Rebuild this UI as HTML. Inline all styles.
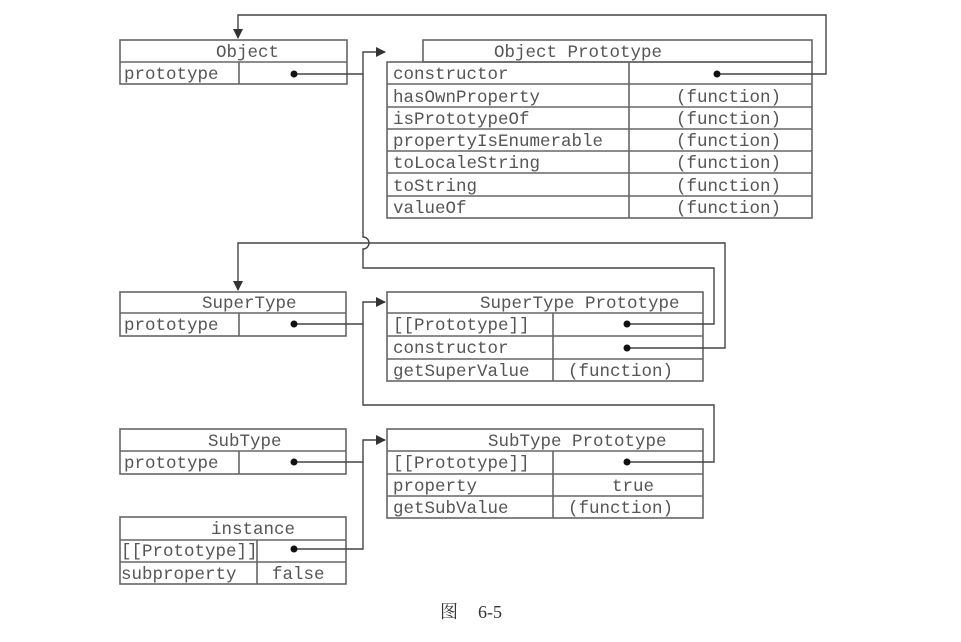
<!DOCTYPE html>
<html><head><meta charset="utf-8"><style>
html,body{margin:0;padding:0;background:#fff;}
svg{display:block}
text{font-family:"Liberation Mono",monospace;font-size:17.5px;fill:#555;}
.c{font-family:"Liberation Serif","Noto Serif CJK SC",serif;font-size:18px;fill:#333;}
</style></head><body>
<svg width="961" height="642" viewBox="0 0 961 642" xmlns="http://www.w3.org/2000/svg">
<defs><marker id="a" markerWidth="10" markerHeight="10" refX="9" refY="5" orient="auto" markerUnits="userSpaceOnUse"><path d="M0,0 L10,5 L0,10 z" fill="#333"/></marker></defs>
<g fill="none" stroke="#666" stroke-width="1.6">
<!-- Object -->
<rect x="120" y="40" width="227" height="44"/><line x1="120" y1="62" x2="347" y2="62"/><line x1="239" y1="62" x2="239" y2="84"/>
<!-- Object Prototype -->
<rect x="423" y="40" width="389" height="22"/>
<rect x="387" y="62" width="425" height="156"/>
<line x1="629" y1="62" x2="629" y2="218"/>
<line x1="387" y1="84" x2="812" y2="84"/><line x1="387" y1="107" x2="812" y2="107"/><line x1="387" y1="129" x2="812" y2="129"/><line x1="387" y1="151" x2="812" y2="151"/><line x1="387" y1="173" x2="812" y2="173"/><line x1="387" y1="196" x2="812" y2="196"/>
<!-- SuperType -->
<rect x="120" y="292" width="226" height="44"/><line x1="120" y1="313" x2="346" y2="313"/><line x1="239" y1="313" x2="239" y2="336"/>
<rect x="387" y="292" width="316" height="89"/><line x1="387" y1="313" x2="703" y2="313"/><line x1="387" y1="336" x2="703" y2="336"/><line x1="387" y1="359" x2="703" y2="359"/><line x1="553" y1="313" x2="553" y2="381"/>
<!-- SubType -->
<rect x="120" y="429" width="226" height="45"/><line x1="120" y1="451" x2="346" y2="451"/><line x1="239" y1="451" x2="239" y2="474"/>
<rect x="387" y="429" width="316" height="89"/><line x1="387" y1="451" x2="703" y2="451"/><line x1="387" y1="474" x2="703" y2="474"/><line x1="387" y1="496" x2="703" y2="496"/><line x1="553" y1="451" x2="553" y2="518"/>
<!-- instance -->
<rect x="120" y="517" width="226" height="67"/><line x1="120" y1="540" x2="346" y2="540"/><line x1="120" y1="562" x2="346" y2="562"/><line x1="257" y1="540" x2="257" y2="584"/>
</g>
<g fill="none" stroke="#444" stroke-width="1.4">
<path d="M717,74 H826 V15 H238 V38" marker-end="url(#a)"/>
<path d="M294,74 H363 V52 H385" marker-end="url(#a)"/>
<path d="M363,74 V237 A6,6 0 0 1 363,249 V268 H714 V324 H627"/>
<path d="M627,348 H725 V243 H238 V290" marker-end="url(#a)"/>
<path d="M294,324 H363 V302 H385" marker-end="url(#a)"/>
<path d="M363,324 V405 H714 V462 H627"/>
<path d="M294,462 H363 V440 H385" marker-end="url(#a)"/>
<path d="M294,549 H363 V462"/>
</g>
<g fill="#111">
<circle cx="294" cy="74" r="3.5"/><circle cx="717" cy="74" r="3.5"/>
<circle cx="294" cy="324" r="3.5"/><circle cx="627" cy="324" r="3.5"/><circle cx="627" cy="348" r="3.5"/>
<circle cx="294" cy="462" r="3.5"/><circle cx="627" cy="462" r="3.5"/><circle cx="294" cy="549" r="3.5"/>
</g>
<text x="216" y="57">Object</text>
<text x="124" y="79">prototype</text>
<text x="494" y="57">Object Prototype</text>
<text x="393" y="79">constructor</text>
<text x="393" y="102">hasOwnProperty</text><text x="676" y="102">(function)</text>
<text x="393" y="124">isPrototypeOf</text><text x="676" y="124">(function)</text>
<text x="393" y="146">propertyIsEnumerable</text><text x="676" y="146">(function)</text>
<text x="393" y="168">toLocaleString</text><text x="676" y="168">(function)</text>
<text x="393" y="191">toString</text><text x="676" y="191">(function)</text>
<text x="393" y="213">valueOf</text><text x="676" y="213">(function)</text>
<text x="202" y="308">SuperType</text>
<text x="124" y="330">prototype</text>
<text x="480" y="308">SuperType Prototype</text>
<text x="393" y="330">[[Prototype]]</text>
<text x="393" y="353">constructor</text>
<text x="393" y="376">getSuperValue</text><text x="568" y="376">(function)</text>
<text x="208" y="446">SubType</text>
<text x="124" y="468">prototype</text>
<text x="488" y="446">SubType Prototype</text>
<text x="393" y="468">[[Prototype]]</text>
<text x="393" y="491">property</text><text x="612" y="491">true</text>
<text x="393" y="513">getSubValue</text><text x="568" y="513">(function)</text>
<text x="211" y="534">instance</text>
<text x="121" y="556">[[Prototype]]</text>
<text x="121" y="579">subproperty</text><text x="272" y="579">false</text>
<text class="c" x="440" y="618">图</text><text class="c" x="478" y="618">6-5</text>
</svg>
</body></html>
